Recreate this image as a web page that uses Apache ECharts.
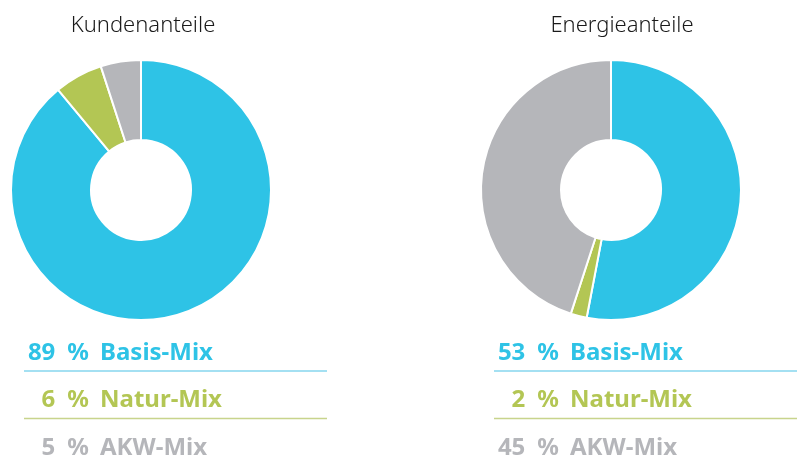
<!DOCTYPE html>
<html>
<head>
<meta charset="utf-8">
<script src="https://cdn.jsdelivr.net/npm/echarts@6/dist/echarts.min.js"></script>
<style>
  html, body { margin: 0; padding: 0; background: #fff; }
  #chart { width: 799px; height: 462px; }
</style>
</head>
<body>
<div id="chart"></div>
<script>
// Daten
const kategorien = ['Basis-Mix', 'Natur-Mix', 'AKW-Mix']
const kundenanteile = [89, 6, 5]
const energieanteile = [53, 2, 45]
const titel = ['Kundenanteile', 'Energieanteile']
const farben = ['#2ec3e6', '#b3c654', '#b5b6ba']
const linienFarben = ['#86d6ee', '#c8d48c']

const chart = echarts.init(document.getElementById('chart'))

const zentren = [141, 611]
const titelX = [138, 617]
const reihen = [kundenanteile, energieanteile]

function pieSerie(werte, cx) {
  return {
    type: 'pie',
    center: [cx, 190],
    radius: [50, 130],
    startAngle: 90,
    clockwise: true,
    silent: true,
    label: { show: false },
    labelLine: { show: false },
    itemStyle: { borderColor: '#fff', borderWidth: 2 },
    data: werte.map((v, i) => ({
      name: kategorien[i],
      value: v,
      itemStyle: { color: farben[i] }
    }))
  }
}

// Legende unter den Ringen
let graphic = []
reihen.forEach((werte, s) => {
  const x0 = zentren[s] - 117
  werte.forEach((v, i) => {
    const base = 360 + i * 47.5
    graphic.push({
      type: 'text',
      style: {
        text: v + '\u2002%',
        x: x0 + 65,
        y: base + 5,
        textAlign: 'right',
        textVerticalAlign: 'bottom',
        fill: farben[i],
        font: 'bold 24px "Noto Sans"'
      }
    })
    graphic.push({
      type: 'text',
      style: {
        text: kategorien[i],
        x: x0 + 76,
        y: base + 5,
        textAlign: 'left',
        textVerticalAlign: 'bottom',
        fill: farben[i],
        font: 'bold 24px "Noto Sans"'
      }
    })
    if (i < 2) {
      graphic.push({
        type: 'line',
        shape: { x1: x0, y1: base + 11, x2: x0 + 303, y2: base + 11 },
        style: { stroke: linienFarben[i], lineWidth: 1.5 }
      })
    }
  })
})

chart.setOption({
  animation: false,
  title: titel.map((t, i) => ({
    text: t,
    left: titelX[i],
    top: 10,
    textAlign: 'center',
    textStyle: { fontFamily: 'Noto Sans', fontWeight: 300, fontSize: 22, color: '#1a1a1a' }
  })),
  series: reihen.map((w, i) => pieSerie(w, zentren[i])),
  graphic: graphic
})
</script>
</body>
</html>
